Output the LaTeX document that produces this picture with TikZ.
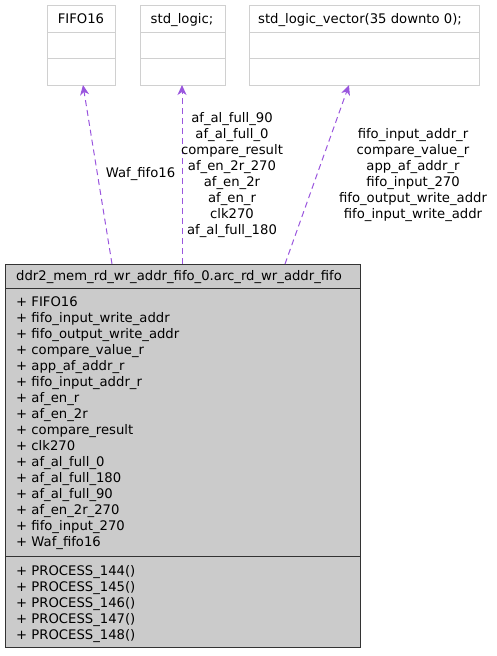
\documentclass[tikz,border=0pt]{standalone}
\usepackage{fontspec}
\setmainfont{DejaVu Sans}
\usetikzlibrary{arrows.meta}
\definecolor{arr}{HTML}{9A56DE}
\definecolor{lbox}{HTML}{D0D0D0}
\definecolor{mfill}{HTML}{CBCBCB}
\tikzset{
  small/.style={font=\fontsize{13.2}{16}\selectfont, inner sep=0pt},
  lbl/.style={small, align=center},
  dep/.style={draw=arr, dashed, dash pattern=on 6pt off 4pt, line width=1pt, -{Stealth[length=10pt,width=9pt,inset=3pt]}},
  ubox/.style={draw=lbox, line width=0.9pt, fill=white},
}
\begin{document}
\begin{tikzpicture}[x=1pt,y=-1pt]
\useasboundingbox (0,0) rectangle (497,656);
% top boxes
\draw[ubox] (47,5) rectangle (115,85);
\draw[lbox, line width=0.9pt] (47,32) -- (115,32) (47,58) -- (115,58);
\node[small, anchor=base] (fifo) at (81,23) {FIFO16};
\coordinate (fifoB) at (83,85);

\draw[ubox] (140,5) rectangle (225,85);
\draw[lbox, line width=0.9pt] (140,32) -- (225,32) (140,58) -- (225,58);
\node[small, anchor=base] (sl) at (182,23) {std\_logic;};
\coordinate (slB) at (182,85);

\draw[ubox] (249,5) rectangle (479,85);
\draw[lbox, line width=0.9pt] (249,32) -- (479,32) (249,58) -- (479,58);
\node[small, anchor=base] (slv) at (360,23) {std\_logic\_vector(35 downto 0);};
\coordinate (slvB) at (349,85);

% main box
\draw[fill=mfill, draw=black!80, line width=1pt] (5,264) rectangle (360,647);
\draw[black!80, line width=1pt] (5,288) -- (360,288) (5,556) -- (360,556);
\node[small, anchor=base west] (title) at (16,280) {ddr2\_mem\_rd\_wr\_addr\_fifo\_0.arc\_rd\_wr\_addr\_fifo};
% base anchor of a multi-line node = baseline of its last line
\node[small, anchor=base west, align=left] (attrs) at (16,546) {+ FIFO16\\+ fifo\_input\_write\_addr\\+ fifo\_output\_write\_addr\\+ compare\_value\_r\\+ app\_af\_addr\_r\\+ fifo\_input\_addr\_r\\+ af\_en\_r\\+ af\_en\_2r\\+ compare\_result\\+ clk270\\+ af\_al\_full\_0\\+ af\_al\_full\_180\\+ af\_al\_full\_90\\+ af\_en\_2r\_270\\+ fifo\_input\_270\\+ Waf\_fifo16};
\node[small, anchor=base west, align=left] (ops) at (16,639) {+ PROCESS\_144()\\+ PROCESS\_145()\\+ PROCESS\_146()\\+ PROCESS\_147()\\+ PROCESS\_148()};
\coordinate (m1) at (112,264);
\coordinate (m2) at (182,264);
\coordinate (m3) at (285,264);

% connectors
\draw[dep] (m1) -- (fifoB);
\draw[dep] (m2) -- (slB);
\draw[dep] (m3) -- (slvB);

\node[lbl, anchor=base] (l1) at (140.5,177) {Waf\_fifo16};
\node[lbl, anchor=base] (l2) at (232,234) {af\_al\_full\_90\\af\_al\_full\_0\\compare\_result\\af\_en\_2r\_270\\af\_en\_2r\\af\_en\_r\\clk270\\af\_al\_full\_180};
\node[lbl, anchor=base] (l3) at (413,218) {fifo\_input\_addr\_r\\compare\_value\_r\\app\_af\_addr\_r\\fifo\_input\_270\\fifo\_output\_write\_addr\\fifo\_input\_write\_addr};
\end{tikzpicture}
\end{document}
